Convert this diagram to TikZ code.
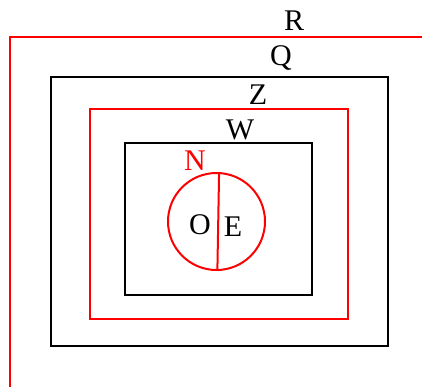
\documentclass[tikz,border=0pt]{standalone}
\usepackage{fontspec}
\setmainfont{Liberation Serif}
\begin{document}
\begin{tikzpicture}[x=1pt,y=-1pt]
	\tikzstyle{box} =[draw, line width=2pt, inner sep=0pt];
	\tikzstyle{lbl} =[font=\fontsize{30}{30}\selectfont, inner sep=0pt, anchor=base];
	\useasboundingbox (0,0) rectangle (422,387);
	\coordinate (rlow) at (10,387);
	\coordinate (rend) at (422,37);
	\node[box, minimum width=337pt, minimum height=269pt] (Q) at (219.5,211.5) {};
	\node[box, red, minimum width=258pt, minimum height=210pt] (Z) at (219,214) {};
	\node[box, minimum width=187pt, minimum height=152pt] (W) at (218.5,219) {};
	\node[box, red, circle, minimum size=97pt] (N) at (216.5,221.5) {};
	
	\draw[red, line width=2pt] (rlow) |- (rend);
	\draw[red, line width=2pt] (N.87) -- (N.-89);
	
	\node[lbl] (rlabel) at (294,31) {R};
	\node[lbl] (qlabel) at (281,66) {Q};
	\node[lbl] (zlabel) at (258,105) {Z};
	\node[lbl] (wlabel) at (240,140) {W};
	\node[lbl, red] (nlabel) at (195,171) {N};
	\node[lbl] (olabel) at (200,234) {O};
	\node[lbl] (elabel) at (233,236) {E};
\end{tikzpicture}
\end{document}
